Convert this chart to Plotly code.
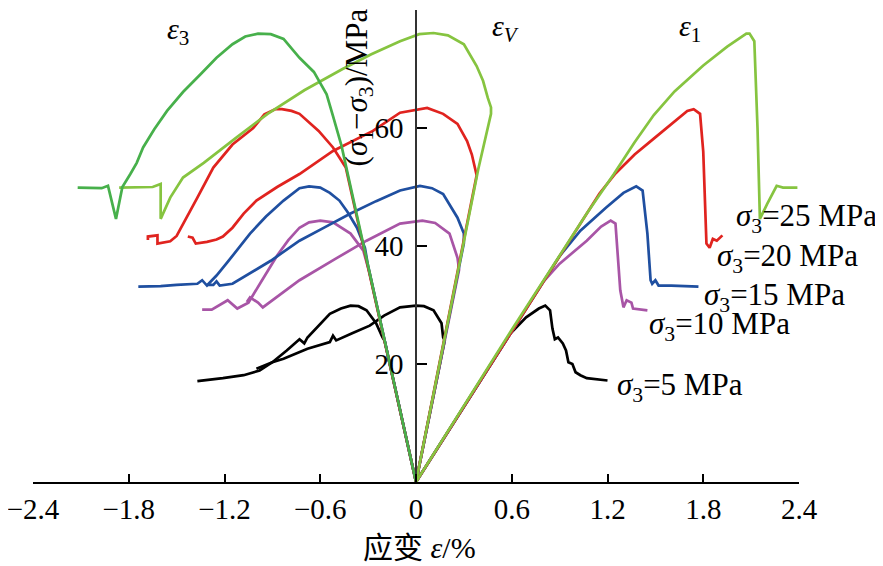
import plotly.graph_objects as go

# ---------------- data (strain %, deviatoric stress MPa) ----------------
# sigma3 = 5 MPa
e3_5_x = [0, -0.197, -0.21, -0.25, -0.31, -0.36, -0.41, -0.47, -0.54, -0.61, -0.68, -0.70, -0.73, -0.81, -0.90, -0.98, -1.04, -1.08, -1.21, -1.37]
e3_5_y = [0, 24, 24.5, 26.9, 29.1, 29.8, 29.9, 29.4, 28.5, 26.5, 24.5, 23.5, 24.2, 22.3, 20.3, 18.9, 18.4, 18.1, 17.6, 17.1]
ev_5_x = [0, 0.18, 0.17, 0.16, 0.11, 0.05, 0.0, -0.10, -0.20, -0.29, -0.40, -0.50, -0.52, -0.54, -0.68, -0.83, -0.90, -1.00]
ev_5_y = [0, 24, 24.5, 26.9, 29.1, 29.8, 29.9, 29.6, 28.2, 26.5, 25.2, 24.0, 24.8, 23.7, 22.6, 20.9, 20.3, 19.2]
e1_5_x = [0, 0.59, 0.69, 0.77, 0.81, 0.84, 0.855, 0.87, 0.89, 0.92, 0.94, 0.955, 0.98, 1.00, 1.03, 1.07, 1.20]
e1_5_y = [0, 25.1, 27.9, 29.4, 29.9, 29.1, 26.0, 24.2, 24.5, 23.5, 22.3, 20.3, 20.0, 18.6, 18.1, 17.6, 17.2]

# sigma3 = 10 MPa
e3_10_x = [0, -0.25, -0.26, -0.29, -0.33, -0.41, -0.52, -0.60, -0.67, -0.73, -0.80, -0.87, -0.96, -1.05, -1.12, -1.18, -1.28, -1.34]
e3_10_y = [0, 30, 31.5, 35.3, 39.2, 42.1, 44.0, 44.3, 44.0, 43.1, 41.0, 38.4, 34.4, 30.4, 29.4, 30.8, 29.2, 29.2]
ev_10_x = [0, 0.245, 0.27, 0.26, 0.21, 0.12, 0.04, -0.10, -0.31, -0.50, -0.73, -0.96, -0.99, -1.04, -1.06]
ev_10_y = [0, 33.2, 36.0, 38.0, 42.1, 43.9, 44.3, 43.8, 40.9, 37.9, 34.2, 29.6, 30.4, 31.3, 30.5]
e1_10_x = [0, 0.80, 0.90, 1.07, 1.16, 1.22, 1.25, 1.27, 1.28, 1.30, 1.32, 1.35, 1.36, 1.45]
e1_10_y = [0, 34.0, 37.0, 40.9, 43.3, 44.3, 43.8, 36.4, 32.5, 29.6, 30.8, 30.4, 29.4, 29.1]

# sigma3 = 15 MPa
e3_15_x = [0, -0.303, -0.32, -0.37, -0.43, -0.48, -0.54, -0.60, -0.67, -0.73, -0.83, -0.94, -1.04, -1.11, -1.18, -1.25, -1.31, -1.34, -1.37, -1.50, -1.60, -1.74]
e3_15_y = [0, 37, 39.7, 43.1, 45.8, 47.7, 49.0, 49.9, 50.1, 49.8, 47.7, 45.0, 42.1, 39.6, 37.3, 35.0, 33.3, 34.2, 33.6, 33.4, 33.2, 33.1]
ev_15_x = [0, 0.30, 0.30, 0.26, 0.17, 0.10, 0.025, -0.10, -0.25, -0.41, -0.57, -0.73, -0.91, -1.05, -1.15, -1.23, -1.25, -1.27, -1.31]
ev_15_y = [0, 40.5, 42.1, 44.8, 48.8, 49.8, 50.2, 49.4, 47.6, 45.5, 43.2, 40.9, 37.5, 35.2, 33.6, 33.3, 34.0, 33.4, 33.4]
e1_15_x = [0, 0.90, 1.03, 1.19, 1.30, 1.38, 1.42, 1.45, 1.47, 1.48, 1.50, 1.52, 1.60, 1.77]
e1_15_y = [0, 38.3, 42.6, 46.5, 49.0, 50.1, 49.4, 42.1, 34.2, 33.6, 34.2, 33.3, 33.3, 33.1]

# sigma3 = 20 MPa
e3_20_x = [0, -0.418, -0.44, -0.52, -0.61, -0.73, -0.78, -0.84, -0.88, -0.95, -1.02, -1.15, -1.27, -1.37, -1.44, -1.50, -1.54, -1.585, -1.62, -1.62, -1.68, -1.68]
e3_20_y = [0, 51, 53.3, 56.7, 59.5, 62.4, 62.9, 63.2, 63.2, 62.3, 60.0, 57.2, 53.3, 48.2, 44.8, 41.7, 40.8, 40.6, 40.4, 41.8, 41.6, 41.0]
ev_20_x = [0, 0.38, 0.35, 0.32, 0.26, 0.17, 0.07, -0.10, -0.27, -0.52, -0.73, -0.87, -1.00, -1.08, -1.15, -1.21, -1.25, -1.31, -1.38, -1.40, -1.43]
ev_20_y = [0, 52, 55.5, 57.8, 60.7, 62.4, 63.4, 62.6, 59.5, 56.1, 52.2, 50.0, 47.7, 45.5, 43.1, 41.6, 41.1, 40.7, 40.4, 41.4, 41.6]
e1_20_x = [0, 1.15, 1.25, 1.37, 1.49, 1.60, 1.70, 1.74, 1.78, 1.80, 1.81, 1.82, 1.82, 1.84, 1.86, 1.885, 1.92]
e1_20_y = [0, 48.9, 52.3, 55.5, 58.2, 60.6, 62.9, 63.2, 62.4, 56.0, 47.7, 42.1, 40.4, 39.7, 41.2, 40.9, 41.8]

# sigma3 = 25 MPa
e3_25_x = [0, -0.23, -0.467, -0.52, -0.56, -0.64, -0.73, -0.83, -0.91, -0.99, -1.07, -1.15, -1.25, -1.35, -1.46, -1.56, -1.64, -1.71, -1.75, -1.79, -1.84, -1.88, -1.93, -1.97, -2.05, -2.12]
e3_25_y = [0, 28, 57, 62, 65.7, 69.5, 71.9, 75.1, 75.9, 76.0, 75.5, 74.2, 71.9, 69.1, 66.1, 62.9, 59.8, 56.7, 54.1, 52.2, 50.0, 44.6, 50.2, 49.8, 49.9, 49.9]
ev_25_x = [0, 0.20, 0.39, 0.47, 0.47, 0.45, 0.42, 0.38, 0.30, 0.20, 0.11, 0.02, -0.10, -0.28, -0.46, -0.70, -0.93, -1.12, -1.33, -1.46, -1.54, -1.60, -1.60, -1.65, -1.75, -1.86]
ev_25_y = [0, 27, 53, 62.4, 63.5, 65.1, 68.0, 70.5, 74.2, 75.7, 76.1, 75.9, 74.7, 72.5, 70.0, 66.4, 62.4, 58.5, 54.1, 51.6, 48.2, 44.6, 50.5, 50.0, 49.9, 49.9]
e1_25_x = [0, 0.60, 1.07, 1.24, 1.37, 1.49, 1.62, 1.80, 1.95, 2.07, 2.09, 2.12, 2.14, 2.155, 2.20, 2.26, 2.30, 2.39]
e1_25_y = [0, 25.8, 45.5, 52.2, 57.6, 62.2, 66.2, 70.6, 73.8, 76.0, 76.0, 74.7, 60.0, 44.6, 47.1, 50.2, 49.9, 49.9]

x_ticks = [-2.4, -1.8, -1.2, -0.6, 0, 0.6, 1.2, 1.8, 2.4]
x_ticktext = ["\u22122.4", "\u22121.8", "\u22121.2", "\u22120.6", "0", "0.6", "1.2", "1.8", "2.4"]
y_ticks = [20, 40, 60, 80]
pressure_labels = ["5", "10", "15", "20", "25"]

# ---------------- figure ----------------
SERIF = "Liberation Serif, Times New Roman, Noto Sans CJK SC, serif"
fig = go.Figure()

groups = [
    ("#000000", "#000000", "#000000", e3_5_x, e3_5_y, ev_5_x, ev_5_y, e1_5_x, e1_5_y),
    ("#a855a6", "#a855a6", "#a855a6", e3_10_x, e3_10_y, ev_10_x, ev_10_y, e1_10_x, e1_10_y),
    ("#1f4fa0", "#1f4fa0", "#1f4fa0", e3_15_x, e3_15_y, ev_15_x, ev_15_y, e1_15_x, e1_15_y),
    ("#e0231f", "#e0231f", "#e0231f", e3_20_x, e3_20_y, ev_20_x, ev_20_y, e1_20_x, e1_20_y),
    ("#47b04b", "#86c440", "#86c440", e3_25_x, e3_25_y, ev_25_x, ev_25_y, e1_25_x, e1_25_y),
]
for c3, cv, c1, x3, y3, xv, yv, x1, y1 in groups:
    for xs, ys, col in ((x1, y1, c1), (xv, yv, cv), (x3, y3, c3)):
        fig.add_trace(go.Scatter(x=xs, y=ys, mode="lines",
                                 line=dict(color=col, width=2.7),
                                 hoverinfo="skip", showlegend=False))

# pressure labels (left edge x, centre y in data units)
label_pos = [(1.25, 16.1), (1.45, 26.5), (1.79, 31.4), (1.875, 38.0), (1.99, 44.8)]
for p, (lx, ly) in zip(pressure_labels, label_pos):
    fig.add_annotation(x=lx, y=ly, xref="x", yref="y", xanchor="left", yanchor="middle",
                       text="<i>σ</i><sub>3</sub>=" + p + " MPa", showarrow=False,
                       font=dict(family=SERIF, size=31, color="black"))

for txt, lx, ly in (("<i>ε</i><sub>3</sub>", -1.49, 76.5),
                    ("<i>ε</i><sub><i>V</i></sub>", 0.56, 77.0),
                    ("<i>ε</i><sub>1</sub>", 1.72, 77.0)):
    fig.add_annotation(x=lx, y=ly, xref="x", yref="y", xanchor="center", yanchor="middle",
                       text=txt, showarrow=False,
                       font=dict(family=SERIF, size=30, color="black"))

# axis titles
fig.add_annotation(x=0.02, y=-0.138, xref="x", yref="paper", xanchor="center", yanchor="middle",
                   text="应变 <i>ε</i>/%", showarrow=False,
                   font=dict(family=SERIF, size=30, color="black"))
fig.add_annotation(x=-0.36, y=66.8, xref="x", yref="y", xanchor="center", yanchor="middle",
                   text="(<i>σ</i><sub>1</sub>−<i>σ</i><sub>3</sub>)/MPa", textangle=-90,
                   showarrow=False, font=dict(family=SERIF, size=31, color="black"))

# the page body adds an 8px offset, so the figure is 8px smaller and margins shifted
fig.update_layout(
    width=875, height=558,
    margin=dict(l=25, r=84, t=2, b=84, autoexpand=False),
    paper_bgcolor="white", plot_bgcolor="white",
    xaxis=dict(range=[-2.4, 2.4], showgrid=False, zeroline=False, automargin=False,
               showline=True, linecolor="black", linewidth=2,
               ticks="inside", ticklen=8, tickwidth=2, tickcolor="black",
               tickvals=x_ticks, ticktext=x_ticktext, ticklabeloverflow="allow",
               tickfont=dict(family=SERIF, size=29, color="black")),
    yaxis=dict(range=[0, 80], showgrid=False, zeroline=False, automargin=False,
               anchor="free", position=0.5,
               showline=True, linecolor="#333333", linewidth=1.5,
               ticks="inside", ticklen=10, tickwidth=2, tickcolor="black",
               tickvals=y_ticks, ticklabelstandoff=6,
               tickfont=dict(family=SERIF, size=29, color="black")),
)

fig.write_html("out.html")
